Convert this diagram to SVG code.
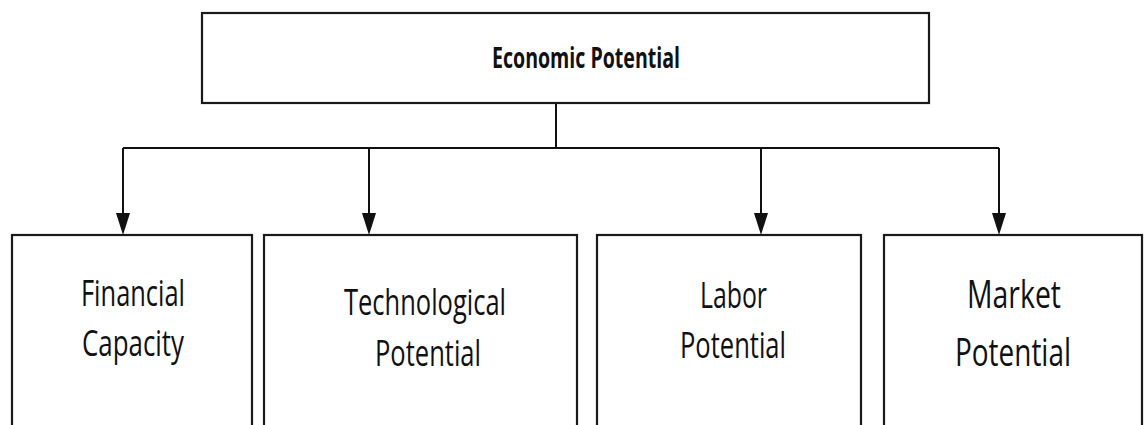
<svg xmlns="http://www.w3.org/2000/svg" width="1144" height="425" viewBox="0 0 1144 425">
  <style>
    .box { fill: #ffffff; stroke: #1a1a1a; stroke-width: 2.2; }
    .line { fill: none; stroke: #111111; stroke-width: 2; }
    .lbl { font-family: "Open Sans", "Noto Sans", sans-serif; font-size: 37px; fill: #111111; text-anchor: middle; }
    .title { font-family: "Open Sans", "Noto Sans", sans-serif; font-size: 28px; font-weight: bold; fill: #111111; text-anchor: middle; }
  </style>
  <defs>
    <marker id="arrow" viewBox="0 0 14 22" refX="7" refY="22" markerWidth="14" markerHeight="22" markerUnits="userSpaceOnUse" orient="auto-start-reverse">
      <path d="M0,0 L14,0 L7,22 Z" fill="#111111"/>
    </marker>
  </defs>
  <rect width="1144" height="425" fill="#ffffff"/>

  <g id="connectors">
    <path class="line" d="M556,103 V148"/>
    <path class="line" d="M123,148 H999"/>
    <path class="line" d="M123,148 V213"/>
    <path class="line" d="M369,148 V213"/>
    <path class="line" d="M761,148 V213"/>
    <path class="line" d="M999,148 V213"/>
    <path d="M116,213 L130,213 L123,235 Z" fill="#111111"/>
    <path d="M362,213 L376,213 L369,235 Z" fill="#111111"/>
    <path d="M754,213 L768,213 L761,235 Z" fill="#111111"/>
    <path d="M992,213 L1006,213 L999,235 Z" fill="#111111"/>
  </g>

  <g id="economic-potential">
    <rect class="box" x="202" y="13" width="727" height="90"/>
    <text class="title" x="586" y="68" textLength="188" lengthAdjust="spacingAndGlyphs">Economic Potential</text>
  </g>

  <g id="financial-capacity">
    <rect class="box" x="12" y="235" width="240" height="210"/>
    <text class="lbl" x="133" y="306" textLength="104" lengthAdjust="spacingAndGlyphs">Financial</text>
    <text class="lbl" x="133" y="356" textLength="102" lengthAdjust="spacingAndGlyphs">Capacity</text>
  </g>

  <g id="technological-potential">
    <rect class="box" x="264" y="235" width="313" height="210"/>
    <text class="lbl" x="425" y="315" textLength="162" lengthAdjust="spacingAndGlyphs">Technological</text>
    <text class="lbl" x="428" y="366" textLength="106" lengthAdjust="spacingAndGlyphs">Potential</text>
  </g>

  <g id="labor-potential">
    <rect class="box" x="597" y="235" width="264" height="210"/>
    <text class="lbl" x="733.5" y="308" textLength="67" lengthAdjust="spacingAndGlyphs">Labor</text>
    <text class="lbl" x="733" y="358" textLength="106" lengthAdjust="spacingAndGlyphs">Potential</text>
  </g>

  <g id="market-potential">
    <rect class="box" x="884" y="235" width="258" height="210"/>
    <text class="lbl" x="1014" y="308" textLength="94" lengthAdjust="spacingAndGlyphs" style="font-size:39px">Market</text>
    <text class="lbl" x="1013" y="366" textLength="116" lengthAdjust="spacingAndGlyphs" style="font-size:39px">Potential</text>
  </g>
</svg>
